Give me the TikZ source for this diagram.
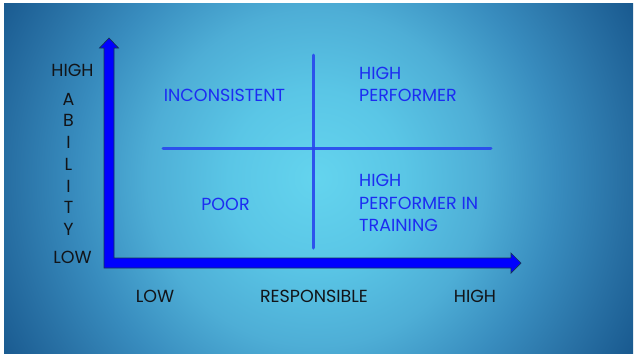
\documentclass[tikz,border=0pt]{standalone}
\usepackage{fontspec}
\setmainfont{Poppins}
\usetikzlibrary{calc}

\definecolor{bgcentre}{RGB}{100,212,238}
\definecolor{bgnear}{RGB}{90,198,230}
\definecolor{bgmid}{RGB}{78,174,214}
\definecolor{bgfar}{RGB}{56,140,190}
\definecolor{bgouter}{RGB}{40,112,164}
\definecolor{bgedge}{RGB}{24,88,142}
\definecolor{axisblue}{RGB}{0,0,255}
\definecolor{axisedge}{RGB}{20,50,90}
\definecolor{divblue}{RGB}{40,70,238}
\definecolor{quadblue}{RGB}{28,44,242}
\definecolor{labeldark}{RGB}{18,20,24}

% round light spot, darker towards the sides and corners
% (25bp is the rim of the shaded path)
\pgfdeclareradialshading{backdrop}{\pgfpoint{0bp}{0bp}}{%
    color(0bp)=(bgcentre); color(6bp)=(bgnear); color(11.5bp)=(bgmid);
    color(16.5bp)=(bgfar); color(21bp)=(bgouter); color(25bp)=(bgedge);
    color(50bp)=(bgedge)}

\tikzset{
    axislabel/.style={text=labeldark,font=\fontsize{17.5}{22}\selectfont,inner sep=0pt},
    quadlabel/.style={text=quadblue,font=\fontsize{17.5}{22.5}\selectfont,inner sep=0pt,align=left},
    divider/.style={draw=divblue,opacity=0.9,line width=3pt,line cap=round},
    axisbar/.style={fill=axisblue,draw=axisedge,line width=0.7pt,line join=miter}
}

\begin{document}
\begin{tikzpicture}[x=1pt,y=-1pt]
    \useasboundingbox (0,0) rectangle (635,357);
    \fill[white] (0,0) rectangle (635,357);
    \begin{scope}
        \clip (4,3) rectangle (633,353);
        \shade[shading=backdrop] (316,178) circle[radius=365];
    \end{scope}

    % axes
    \coordinate (origin) at (109,263);
    \coordinate (ytip) at (109,38);
    \coordinate (xtip) at (521,263);
    \draw[axisbar] ($(origin)+(-5,5)$) -- ($(ytip)+(-5,10)$) -- ($(ytip)+(-9.5,10)$)
        -- (ytip) -- ($(ytip)+(9.5,10)$) -- ($(ytip)+(5,10)$) -- ($(origin)+(5,-5)$)
        -- ($(xtip)+(-10,-5)$) -- ($(xtip)+(-10,-10)$) -- (xtip) -- ($(xtip)+(-10,10)$)
        -- ($(xtip)+(-10,5)$) -- cycle;

    % quadrant dividers
    \coordinate (vtop) at (313,55);
    \coordinate (vbot) at (313,248);
    \coordinate (hleft) at (163,148);
    \coordinate (hright) at (491,148);
    \draw[divider] (vtop) -- (vbot);
    \draw[divider] (hleft) -- (hright);

    % vertical axis labels
    \node[axislabel] (yhigh) at (72.5,70.5) {HIGH};
    \foreach \ch [count=\i] in {A,B,I,L,I,T,Y}
        \node[axislabel] (ability\i) at (68.5,{99+(\i-1)*21.75}) {\ch};
    \node[axislabel] (ylow) at (72.5,257) {LOW};

    % horizontal axis labels
    \node[axislabel] (xlow) at (155,296.5) {LOW};
    \node[axislabel] (xname) at (314,296.5) {RESPONSIBLE};
    \node[axislabel] (xhigh) at (475,296.5) {HIGH};

    % quadrants
    \node[quadlabel] (inconsistent) at (224.5,95) {INCONSISTENT};
    \node[quadlabel,anchor=north west] (highperf) at (359,66.5) {HIGH\\PERFORMER};
    \node[quadlabel] (poor) at (225.5,204.5) {POOR};
    \node[quadlabel,anchor=north west] (training) at (359,174.3) {HIGH\\PERFORMER IN\\TRAINING};
\end{tikzpicture}
\end{document}
